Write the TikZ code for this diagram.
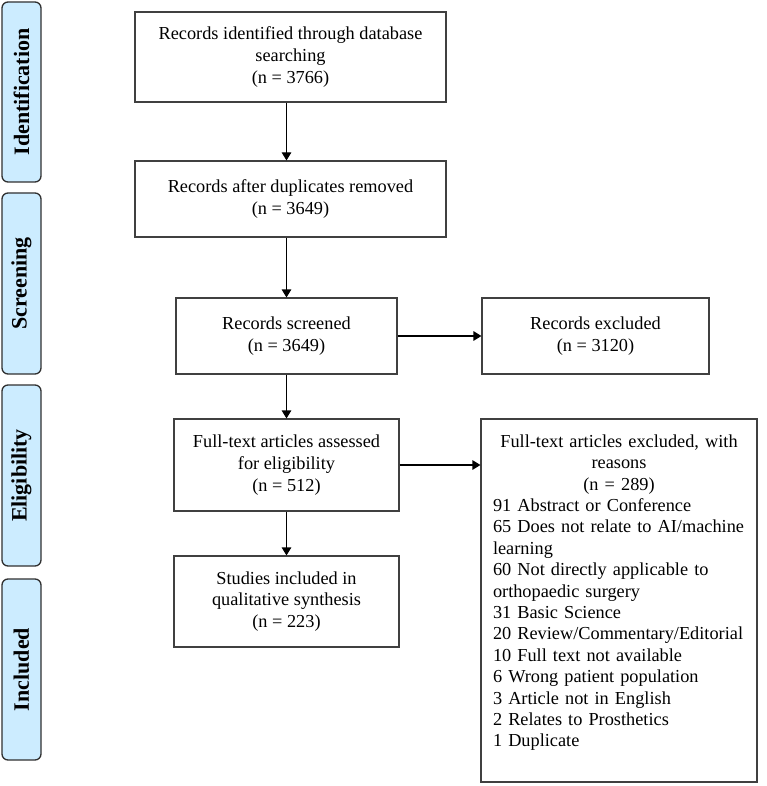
\documentclass[tikz,border=0pt]{standalone}
\usepackage{fontspec}
\setmainfont{Liberation Serif}
\usetikzlibrary{arrows.meta}
\definecolor{labfill}{HTML}{CCECFF}
\definecolor{labline}{HTML}{303030}
\definecolor{boxline}{HTML}{404040}
\begin{document}
\begin{tikzpicture}[x=1pt,y=-1pt,
  box/.style={draw=boxline, line width=1.1pt, align=center, inner sep=0pt,
    font=\fontsize{18.3}{21.6}\selectfont},
  phase/.style={draw=labline, fill=labfill, line width=1.3pt, rounded corners=6pt,
    minimum width=39pt, inner sep=0pt},
  phasetext/.style={rotate=90, font=\bfseries\fontsize{22}{26}\selectfont},
  arr/.style={line width=1.1pt, -{Triangle[length=8pt,width=9.5pt]}}]
\useasboundingbox (0,0) rectangle (766,786);

% phase labels
\node[phase, minimum height=180pt] (lab1) at (21.5,92) {};
\node[phasetext] (lab1t) at (lab1.center) {Identification};
\node[phase, minimum height=181pt] (lab2) at (21.5,283.5) {};
\node[phasetext] (lab2t) at (lab2.center) {Screening};
\node[phase, minimum height=181pt] (lab3) at (21.5,475.5) {};
\node[phasetext] (lab3t) at (lab3.center) {Eligibility};
\node[phase, minimum height=181pt] (lab4) at (21.5,669.5) {};
\node[phasetext] (lab4t) at (lab4.center) {Included};

% boxes
\node[box, minimum width=311pt, minimum height=90pt] (b1) at (290.5,57)
  {Records identified through database\\searching\\(n = 3766)};
\node[box, minimum width=311pt, minimum height=76pt] (b2) at (290.5,199)
  {Records after duplicates removed\\(n = 3649)};
\node[box, minimum width=221pt, minimum height=76pt] (b3) at (286.5,336)
  {Records screened\\(n = 3649)};
\node[box, minimum width=227pt, minimum height=76pt] (b4) at (595.5,336)
  {Records excluded\\(n = 3120)};
\node[box, minimum width=225pt, minimum height=92pt] (b5) at (286.5,465)
  {Full-text articles assessed\\for eligibility\\(n = 512)};
\node[box, minimum width=225pt, minimum height=91pt] (b7) at (286.5,601.5)
  {Studies included in\\qualitative synthesis\\(n = 223)};
\node[box, minimum width=276pt, minimum height=363pt] (b6) at (619,600.5) {};
\node[anchor=north, text width=252pt, inner xsep=0pt, inner ysep=16pt, align=left,
  font=\fontsize{18.3}{21.4}\selectfont] (b6t) at (b6.north)
  {{\centering Full-text articles excluded, with\\reasons\\(n = 289)\par}
   \raggedright
   91 Abstract or Conference\\
   65 Does not relate to AI/machine\\
   learning\\
   60 Not directly applicable to\\
   orthopaedic surgery\\
   31 Basic Science\\
   20 Review/Commentary/Editorial\\
   10 Full text not available\\
   6 Wrong patient population\\
   3 Article not in English\\
   2 Relates to Prosthetics\\
   1 Duplicate};

% connectors
\draw[arr] (b1.south -| b3.north) -- (b2.north -| b3.north);
\draw[arr] (b2.south -| b3.north) -- (b3.north);
\draw[arr] (b3.south) -- (b5.north);
\draw[arr] (b5.south) -- (b7.north);
\draw[arr] (b3.east) -- (b4.west);
\draw[arr] (b5.east) -- (b5.east -| b6.west);
\end{tikzpicture}
\end{document}
